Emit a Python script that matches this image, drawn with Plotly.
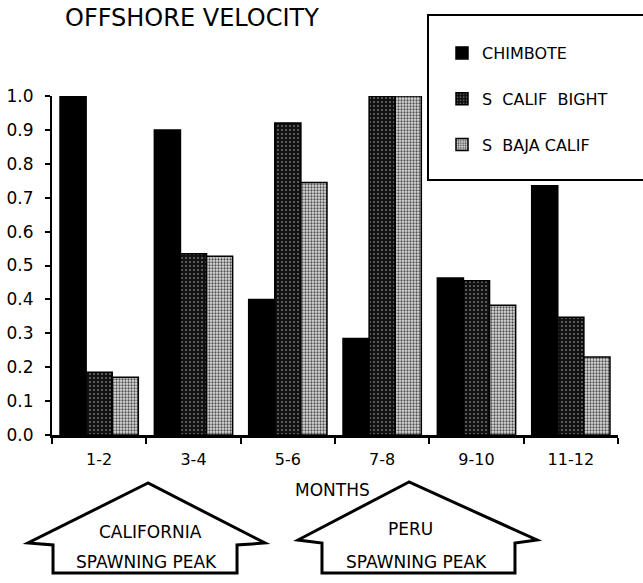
import plotly.graph_objects as go

# Data
months = ["1-2", "3-4", "5-6", "7-8", "9-10", "11-12"]
chimbote = [1.0, 0.90, 0.40, 0.285, 0.463, 0.735]
s_calif_bight = [0.185, 0.535, 0.92, 1.0, 0.455, 0.347]
s_baja_calif = [0.17, 0.527, 0.745, 1.0, 0.383, 0.23]
y_ticks = [0.0, 0.1, 0.2, 0.3, 0.4, 0.5, 0.6, 0.7, 0.8, 0.9, 1.0]

W, H = 643, 583
L, R, T, B = 52, 25, 96, 148
PW, PH = W - L - R, H - T - B
FONT = "DejaVu Sans"


def px(x, y):
    # pixel position -> paper coordinates
    return (x - L) / PW, (H - B - y) / PH


def path(points):
    pts = [px(x, y) for x, y in points]
    return "M " + " L ".join(f"{a:.4f},{b:.4f}" for a, b in pts) + " Z"


fig = go.Figure()
fig.add_trace(go.Bar(x=months, y=chimbote, name="CHIMBOTE", legendgroup="a",
                     marker=dict(color="black", line=dict(color="black", width=1.5))))
fig.add_trace(go.Bar(x=months, y=s_calif_bight, name="S  CALIF  BIGHT", legendgroup="b",
                     marker=dict(color="#111111", line=dict(color="black", width=1.5),
                                 pattern=dict(shape=".", bgcolor="#111111", fgcolor="#707070",
                                              size=4, solidity=0.2, fillmode="replace"))))
fig.add_trace(go.Bar(x=months, y=s_baja_calif, name="S  BAJA CALIF", legendgroup="c",
                     marker=dict(color="#bbbbbb", line=dict(color="black", width=1.5),
                                 pattern=dict(shape=".", bgcolor="#e0e0e0", fgcolor="#505050",
                                              size=3, solidity=0.45, fillmode="replace"))))

shapes = []
# legend frame
x0, y0 = px(428, 15)
x1, y1 = px(650, 180)
shapes.append(dict(type="rect", xref="paper", yref="paper", x0=x0, y0=y0, x1=x1, y1=y1,
                   line=dict(color="black", width=2), fillcolor="white", layer="above"))
# spawning peak arrows
cal = [(148, 483), (28, 543), (53, 545), (53, 573), (237, 573), (237, 545), (265, 543)]
peru = [(409, 482), (298, 540), (322, 543), (322, 573), (515, 573), (515, 543), (537, 540)]
for p in (cal, peru):
    shapes.append(dict(type="path", xref="paper", yref="paper", path=path(p),
                       line=dict(color="black", width=3), fillcolor="white"))

annotations = []


def note(text, x, y, size, anchor="center"):
    ax, ay = px(x, y)
    annotations.append(dict(text=text, x=ax, y=ay, xref="paper", yref="paper",
                            xanchor=anchor, yanchor="middle", showarrow=False,
                            font=dict(family=FONT, size=size, color="black")))


note("OFFSHORE VELOCITY", 63, 18, 24, "left")
note("MONTHS", 332, 490, 17)
note("CALIFORNIA", 150, 532, 17)
note("SPAWNING PEAK", 146, 562, 17)
note("PERU", 410, 529, 17)
note("SPAWNING PEAK", 416, 562, 17)

lx, ly = px(442, 36)
fig.update_layout(
    width=W, height=H,
    margin=dict(l=L, r=R, t=T, b=B, autoexpand=False),
    plot_bgcolor="white", paper_bgcolor="white",
    barmode="group", bargap=0.17, bargroupgap=0.0,
    font=dict(family=FONT, size=15, color="black"),
    showlegend=True,
    legend=dict(x=lx, y=ly, xanchor="left", yanchor="top", bgcolor="rgba(0,0,0,0)",
                borderwidth=0, tracegroupgap=22, font=dict(size=16)),
    shapes=shapes,
    annotations=annotations,
)
fig.update_xaxes(type="category", automargin=False, showline=True, linecolor="black",
                 linewidth=2.5, ticks="outside", tickson="boundaries", ticklen=6,
                 tickwidth=2, tickcolor="black", ticklabelstandoff=8,
                 tickfont=dict(size=16), showgrid=False)
fig.update_yaxes(range=[0, 1.0], automargin=False, showline=True, linecolor="black",
                 linewidth=2, ticks="outside", ticklen=5, tickwidth=2, tickcolor="black",
                 tickvals=y_ticks, ticktext=[f"{v:.1f}" for v in y_ticks],
                 ticklabelstandoff=8, tickfont=dict(size=17), showgrid=False,
                 zeroline=False)

fig.write_html("out.html", config={"displayModeBar": False},
               post_script="document.body.style.margin='0';")
